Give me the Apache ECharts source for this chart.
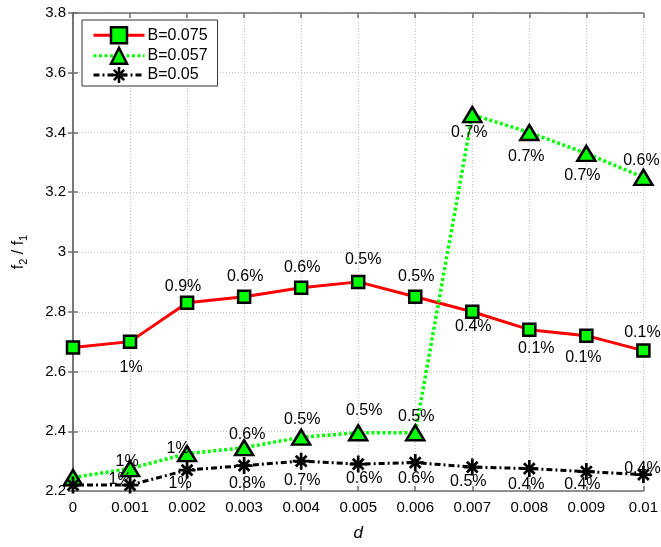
<!DOCTYPE html>
<html>
<head>
<meta charset="utf-8">
<script src="https://cdn.jsdelivr.net/npm/echarts@6/dist/echarts.min.js"></script>
<style>
  html, body { margin: 0; padding: 0; background: #fff; }
  #chart { width: 661px; height: 547px; }
</style>
</head>
<body>
<div id="chart"></div>
<script>
// Frequency ratio f2/f1 versus damage depth d for three values of B
const dValues = [0, 0.001, 0.002, 0.003, 0.004, 0.005, 0.006, 0.007, 0.008, 0.009, 0.01];
const ratioB075 = [2.68, 2.70, 2.83, 2.85, 2.88, 2.90, 2.85, 2.80, 2.74, 2.72, 2.67];
const ratioB057 = [2.245, 2.275, 2.325, 2.345, 2.38, 2.395, 2.395, 3.46, 3.40, 3.33, 3.25];
const ratioB05  = [2.22, 2.22, 2.27, 2.285, 2.30, 2.29, 2.295, 2.28, 2.275, 2.265, 2.255];

// Percentage annotations next to each point
const pctB075 = [null, '1%', '0.9%', '0.6%', '0.6%', '0.5%', '0.5%', '0.4%', '0.1%', '0.1%', '0.1%'];
const pctB057 = [null, '1%', '1%', '0.6%', '0.5%', '0.5%', '0.5%', '0.7%', '0.7%', '0.7%', '0.6%'];
const pctB05  = [null, '1%', '1%', '0.8%', '0.7%', '0.6%', '0.6%', '0.5%', '0.4%', '0.4%', '0.4%'];

const seriesNames = ['B=0.075', 'B=0.057', 'B=0.05'];

// Annotation placement (pixel offsets from the marker centre)
const offB075 = [null, [1, 26], [-4, -16], [1, -20], [1, -20], [5, -22], [1, -20], [1, 15], [7, 19], [-3, 22], [-1, -18]];
const offB057 = [null, [-3, -7], [-9, -5], [3, -13], [1, -18], [6, -22], [1, -16], [-3, 18], [-3, 24], [-4, 22], [-2, -17]];
const offB05  = [null, [-10, -5], [-7, 14], [3, 18], [1, 19], [6, 14], [1, 16], [-4, 14], [-3, 16], [-4, 13], [-1, -6]];

// Eight-armed asterisk marker (all arms share the same winding)
const asteriskPath = 'path://' +
  'M-10,-1.6 L10,-1.6 L10,1.6 L-10,1.6 Z ' +
  'M-1.6,-10 L1.6,-10 L1.6,10 L-1.6,10 Z ' +
  'M5.2,7.5 L-7.5,-5.2 L-5.2,-7.5 L7.5,5.2 Z ' +
  'M7.5,-5.2 L-5.2,7.5 L-7.5,5.2 L5.2,-7.5 Z';

const FONT = 'Liberation Sans, Arial, sans-serif';
const AXIS_COLOR = '#6e6e6e';

function buildData(ys, pcts, offs) {
  return dValues.map(function (x, i) {
    const item = { value: [x, ys[i]] };
    if (pcts[i]) {
      item.label = {
        show: true,
        formatter: pcts[i],
        position: 'inside',
        offset: offs[i],
        color: '#000',
        fontSize: 16,
        fontFamily: FONT
      };
    }
    return item;
  });
}

const chart = echarts.init(document.getElementById('chart'), null, { renderer: 'canvas' });

const axisCommon = {
  axisLine: { show: true, lineStyle: { color: AXIS_COLOR, width: 1.5 } },
  axisTick: { show: true, inside: true, length: 5, lineStyle: { color: AXIS_COLOR, width: 1.5 } }
};

chart.setOption({
  animation: false,
  backgroundColor: '#fff',
  grid: { left: 73, right: 17, top: 13, bottom: 47, containLabel: false },
  legend: {
    orient: 'vertical',
    left: 82,
    top: 20,
    padding: [6, 10, 3, 10],
    itemWidth: 51,
    itemHeight: 20,
    itemGap: 2,
    backgroundColor: '#fff',
    borderColor: '#333',
    borderWidth: 1,
    borderRadius: 0,
    lineStyle: { width: 3 },
    textStyle: { color: '#000', fontSize: 16, fontFamily: FONT, padding: [0, 0, 0, -2] },
    data: [
      { name: seriesNames[0], itemStyle: { borderWidth: 2.5 } },
      { name: seriesNames[1], itemStyle: { borderWidth: 2.5 } },
      { name: seriesNames[2], itemStyle: { borderWidth: 0 } }
    ]
  },
  xAxis: [
    Object.assign({
      type: 'value',
      min: 0,
      max: 0.01,
      interval: 0.001,
      name: 'd',
      nameLocation: 'middle',
      nameGap: 34,
      nameTextStyle: { fontStyle: 'italic', fontSize: 17, fontFamily: FONT, color: '#000' },
      axisLabel: {
        color: '#000', fontSize: 15, fontFamily: FONT, margin: 9,
        formatter: function (v) { return String(parseFloat(v.toFixed(3))); }
      },
      splitLine: { show: true, lineStyle: { color: '#c4c4c4', type: [1, 2], width: 1 } }
    }, axisCommon),
    Object.assign({
      type: 'value', position: 'top', min: 0, max: 0.01, interval: 0.001,
      axisLabel: { show: false }, splitLine: { show: false }
    }, axisCommon)
  ],
  yAxis: [
    Object.assign({
      type: 'value',
      min: 2.2,
      max: 3.8,
      interval: 0.2,
      name: '{f|f}{s|2}{f| / f}{s|1}',
      nameLocation: 'middle',
      nameGap: 43,
      nameRotate: 90,
      nameTextStyle: {
        color: '#000',
        fontFamily: FONT,
        rich: {
          f: { fontSize: 16, fontFamily: FONT, color: '#000', lineHeight: 22 },
          s: { fontSize: 11, fontFamily: FONT, color: '#000', lineHeight: 22, padding: [9, 0, 0, 0] }
        }
      },
      axisLabel: {
        color: '#000', fontSize: 15, fontFamily: FONT, margin: 7,
        formatter: function (v) { return String(parseFloat(v.toFixed(1))); }
      },
      splitLine: { show: true, lineStyle: { color: '#c4c4c4', type: [1, 2], width: 1 } }
    }, axisCommon),
    Object.assign({
      type: 'value', position: 'right', min: 2.2, max: 3.8, interval: 0.2,
      axisLabel: { show: false }, splitLine: { show: false }
    }, axisCommon)
  ],
  series: [
    {
      name: seriesNames[0],
      type: 'line',
      clip: false,
      data: buildData(ratioB075, pctB075, offB075),
      lineStyle: { color: '#ff0000', width: 3, type: 'solid' },
      symbol: 'rect',
      symbolSize: 12,
      itemStyle: { color: '#00ff00', borderColor: '#000', borderWidth: 2.5 },
      z: 2
    },
    {
      name: seriesNames[1],
      type: 'line',
      clip: false,
      data: buildData(ratioB057, pctB057, offB057),
      lineStyle: { color: '#00ff00', width: 3.5, type: [3, 2.5] },
      symbol: 'triangle',
      symbolSize: [18, 15],
      itemStyle: { color: '#00ff00', borderColor: '#000', borderWidth: 2.5 },
      z: 3
    },
    {
      name: seriesNames[2],
      type: 'line',
      clip: false,
      data: buildData(ratioB05, pctB05, offB05),
      lineStyle: { color: '#000', width: 3, type: [6, 3, 2, 3] },
      symbol: asteriskPath,
      symbolSize: 17,
      itemStyle: { color: '#000', borderColor: '#000', borderWidth: 0 },
      z: 4
    }
  ]
});
</script>
</body>
</html>
